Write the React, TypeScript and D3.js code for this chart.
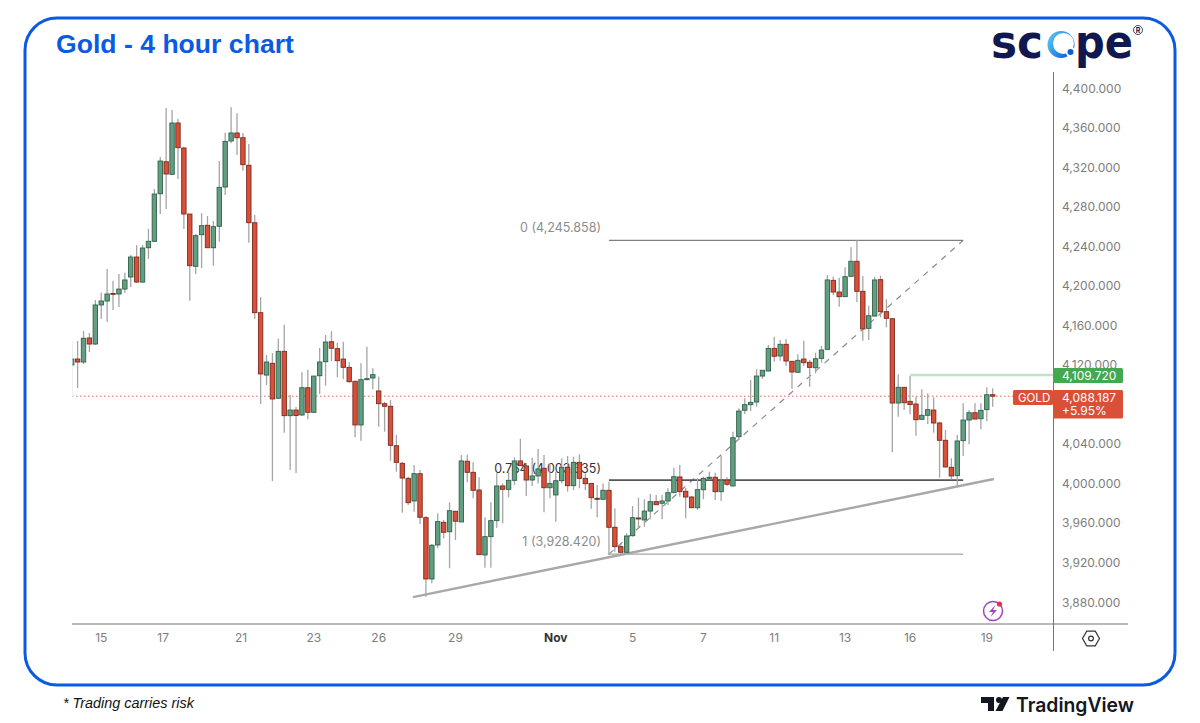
import * as d3 from 'd3';

const opens = [
  4119.8, 4125.8, 4122.8, 4147.1, 4141, 4180.5, 4184.5, 4192.1, 4191.6, 4196.6,
  4208.8, 4229, 4203.7, 4238.4, 4244.9, 4293, 4325.4, 4312.7, 4364.6, 4339.3,
  4272.5, 4219.6, 4251.6, 4261.1, 4238.4, 4260.1, 4299.8, 4346.4, 4354.5, 4349.7,
  4321.8, 4263.7, 4172.7, 4109.6, 4121.5, 4086.1, 4133.6, 4068.5, 4074.2, 4069.2,
  4096.8, 4071.9, 4108.9, 4123.1, 4143.3, 4136.3, 4125.8, 4117.4, 4103.3, 4059.1,
  4104.9, 4106.6, 4093.5, 4080.6, 4078, 4038.1, 4020.3, 4005.1, 3982.2, 4009.8,
  3965.3, 3903.3, 3937.7, 3960.6, 3951.1, 3971.8, 3961, 4022.4, 4011.2, 3993.3,
  3927.6, 3946.1, 3962.3, 3997.4, 3994, 4003.1, 4022.7, 4017.6, 4003.4, 4007.5,
  4015.3, 3995.6, 3988.3, 4002.7, 4016.3, 3997.7, 4021.3, 4005.1, 4000, 3984.9,
  3983.9, 3993, 3955.6, 3936, 3930.3, 3947.1, 3965, 3963, 3972, 3981.5,
  3979.9, 3982.2, 3990.6, 4006.5, 3992, 3986.2, 3975.4, 3993.6, 4005.1, 4006.2,
  3991.6, 4003.4, 3997.4, 4047.2, 4074, 4079.6, 4082.3, 4108.6, 4113.7, 4136.6,
  4128.9, 4140.7, 4123.5, 4112.4, 4125.8, 4122.5, 4117, 4126.5, 4135.6, 4205.4,
  4193.6, 4188.9, 4209.5, 4224.7, 4194.3, 4156.9, 4169.3, 4206.1, 4173.7, 4166.6,
  4081.3, 4097.2, 4083, 4080.3, 4064.8, 4068.9, 4074.2, 4061.1, 4043.6, 4016.3,
  4007.8, 4043.2, 4064.1, 4071.5, 4065.4, 4074.6, 4089.7,
];
const highs = [
  4144, 4144, 4154.2, 4152.1, 4185.5, 4192.9, 4216.9, 4205, 4211.8, 4213.1,
  4231, 4241.2, 4241.2, 4257.6, 4297.8, 4330.2, 4379.7, 4377.7, 4368.6, 4340.6,
  4272.5, 4252.3, 4273.5, 4270.5, 4265.4, 4326.1, 4354.8, 4380.5, 4374.4, 4354.5,
  4343.3, 4271.5, 4188.6, 4129.9, 4131.9, 4146.4, 4160.5, 4089.4, 4077.3, 4112.4,
  4115, 4108.6, 4137, 4150.1, 4153.9, 4142.3, 4143.3, 4122.5, 4103.3, 4121.5,
  4138.3, 4116.4, 4108, 4082.6, 4084.4, 4048.9, 4021.9, 4006.8, 4018.6, 4013.5,
  3967, 3938.7, 3969.7, 3963, 3980.9, 3971.8, 4028.7, 4029, 4021.3, 4006.2,
  3965.7, 3980.9, 4010.2, 4000, 4011.8, 4026.4, 4045.2, 4020.6, 4026, 4034.8,
  4028.7, 4020.6, 4011.5, 4025.4, 4027.7, 4027, 4029.4, 4010.2, 4000, 3998.4,
  4000, 4001.7, 3974.8, 3938.7, 3949.5, 3977.1, 3985.5, 3983.9, 3989.3, 3988.3,
  3988.3, 3995, 4015.9, 4018.6, 3995.3, 3987.2, 4005.1, 4006.8, 4011.8, 4010.8,
  4027.7, 4006.2, 4052.3, 4076, 4086.1, 4104.6, 4115.4, 4114.7, 4140, 4148.4,
  4145, 4146, 4123.8, 4130.6, 4144.3, 4124.8, 4132.2, 4139, 4210.8, 4209.1,
  4208.1, 4218.6, 4238.8, 4245.9, 4209.8, 4179.7, 4209.1, 4210.1, 4186.2, 4167.3,
  4110.4, 4097.5, 4108.6, 4087.7, 4095.2, 4091.1, 4087.1, 4062.4, 4054, 4025.4,
  4048.9, 4081, 4074.2, 4081, 4081, 4097.2, 4096.2,
];
const lows = [
  4089.4, 4096.5, 4120.8, 4132.9, 4140, 4166.3, 4163.3, 4175.4, 4178.4, 4192.6,
  4198.7, 4202.7, 4202.7, 4227, 4244.5, 4272.5, 4277.6, 4312, 4307.9, 4257.3,
  4184.8, 4211.8, 4217.9, 4238.4, 4220.2, 4244.5, 4291.7, 4344, 4332.2, 4316.3,
  4243.5, 4166.3, 4080.3, 4099.5, 4002.4, 4086.1, 4051.3, 4013.5, 4010.5, 4068.2,
  4064.8, 4071.5, 4090.7, 4098.8, 4123.8, 4107.3, 4105.3, 4101.9, 4046.6, 4043.2,
  4104.6, 4095.2, 4057.3, 4052.3, 4023, 4011.8, 3970.4, 3978.1, 3971.4, 3958.9,
  3885.4, 3898.9, 3934.3, 3944.4, 3914.1, 3942.7, 3961, 4001.1, 3984.9, 3927.6,
  3914.7, 3914.7, 3955.2, 3959.6, 3986, 3998.4, 4017.6, 3987.2, 3997.4, 4000,
  3970.8, 3984.9, 3961.3, 4000, 3991.6, 3993.3, 3995, 3993.3, 3974.4, 3965.7,
  3983.7, 3927.6, 3930.9, 3929.3, 3929.6, 3946.1, 3954.6, 3956.2, 3963.7, 3978.1,
  3963.7, 3978.1, 3990.3, 3986.5, 3964.7, 3975.1, 3973.1, 3983.9, 4004.1, 3983.2,
  3982.2, 3997.4, 3996.9, 4043.9, 4070.2, 4073.2, 4077.6, 4105.9, 4113.2, 4123.1,
  4124.1, 4119.1, 4095.8, 4112.2, 4118.8, 4097.8, 4111.4, 4122.1, 4134.9, 4190.6,
  4178.7, 4188.6, 4209.1, 4183.5, 4144.3, 4145, 4168.8, 4168, 4157.9, 4031.5,
  4067.5, 4074.2, 4069.9, 4048.2, 4064.6, 4060.1, 4051.3, 4005.8, 4016.3, 4004.1,
  3996.7, 4027.7, 4039.5, 4064.9, 4054.7, 4062.8, 4077.6,
];
const closes = [
  4125.8, 4122.8, 4146.8, 4141, 4180.5, 4184.5, 4191.6, 4191.3, 4196.6, 4205.8,
  4229, 4203.7, 4238.1, 4244.9, 4292.7, 4326.1, 4313, 4364.6, 4339.6, 4272.5,
  4220.2, 4250.6, 4260.7, 4238.4, 4259.7, 4299.5, 4346, 4354.5, 4349.7, 4322.4,
  4263.7, 4172.7, 4110.7, 4122.8, 4085.4, 4133.6, 4068.5, 4074.2, 4068.7, 4096.8,
  4071.9, 4108.6, 4122.8, 4143, 4136.7, 4124.1, 4117.4, 4102.9, 4059.1, 4104.9,
  4105.9, 4110, 4080.6, 4078, 4038.5, 4021.3, 4005.4, 3980.5, 4009.8, 3965.7,
  3903.3, 3937.4, 3961.3, 3950.5, 3972.4, 3961.7, 4022.7, 4011.2, 3993, 3927.9,
  3946.1, 3962.3, 3997.4, 3994, 4003.1, 4022.7, 4017.9, 4003.4, 4007.5, 4014.6,
  3995.6, 4000, 4002.7, 4016.3, 3997.7, 4021.3, 4005.1, 3999.7, 3985.5, 3983.9,
  3993, 3955.6, 3936, 3930.3, 3946.8, 3965.3, 3964, 3972, 3981.5, 3978.4,
  3982.2, 3990.6, 4006.8, 3991.6, 3986.2, 3975.4, 3993.6, 4005.1, 4006.2, 3991.6,
  4003.4, 3999.1, 4046.2, 4073.2, 4079.6, 4082, 4108.6, 4114.4, 4136.6, 4128.6,
  4140.7, 4123.8, 4112.7, 4124.5, 4122.1, 4117.4, 4126.1, 4134.9, 4205.8, 4193.6,
  4188.9, 4209.1, 4224.7, 4194.3, 4156.2, 4169.6, 4205.8, 4173.7, 4167, 4081.3,
  4097.2, 4081.6, 4079.8, 4064.4, 4068.9, 4074.6, 4061.1, 4043.6, 4016.6, 4007.5,
  4042.9, 4064.1, 4071.5, 4065.1, 4073.9, 4089.7, 4088.2,
];

// 4,080 sits behind the last price tag, so it is not listed
const priceTicks = [3880, 3920, 3960, 4000, 4040, 4120, 4160, 4200, 4240, 4280, 4320, 4360, 4400];
const timeLabels = ['15', '17', '21', '23', '26', '29', 'Nov', '5', '7', '11', '13', '16', '19'];
const timeIndexes = [5, 15.5, 28.7, 41, 52, 65, 82, 95, 107, 119, 131, 142, 155];

// fib retracement anchors (bar index, price)
const fibStart = [91, 3928.42];
const fibEnd = [151, 4245.858];
const fibMid = 4003.336;
const trendStart = [57.8, 3885];
const trendEnd = [156.2, 4004.4];
const lastPrice = 4088.187;
const resistance = 4109.72;
const resistanceStart = 142;

const fmt = d3.format(',.3f');
const x = d3.scaleLinear().domain([0, 156]).range([71.7, 992.7]);
const y = d3.scaleLinear().domain([3880, 4400]).range([602, 88]);

const GREEN = '#629f80';
const GREEN_DARK = '#2f604a';
const RED = '#d94f38';
const RED_DARK = '#7c2b1f';
const BLUE = '#0b5be2';
const AXIS = '#757575';
const UI_FONT = 'Inter, "Noto Sans", sans-serif';
const SANS = "'Liberation Sans', Arial, sans-serif";
const LOGO_FONT = "'DejaVu Sans', Inter, sans-serif";

const seg = d3.line<number[]>().x((d) => x(d[0])).y((d) => y(d[1]));
const hexagon = d3.lineRadial<number>().angle((d) => d).radius(8.5).curve(d3.curveLinearClosed);

export default function App() {
  return (
    <svg width={1200} height={723} style={{ position: 'absolute', left: 0, top: 0, background: '#fff' }}>
      <defs>
        <clipPath id="plot">
          <rect x={72.5} y={72} width={981} height={552} />
        </clipPath>
        <linearGradient id="scopeO" x1="0" y1="0" x2="1" y2="0.6">
          <stop offset="0" stopColor="#5fd0f8" />
          <stop offset="1" stopColor="#0a5fd8" />
        </linearGradient>
      </defs>

      <rect x={25} y={18} width={1150} height={667} rx={32} fill="none" stroke={BLUE} strokeWidth={3} />
      <text x={56} y={53} fontFamily={SANS} fontWeight={700} fontSize={26.6} fill={BLUE}>
        Gold - 4 hour chart
      </text>

      {/* scope logo */}
      <text x={991} y={58} textLength={52} lengthAdjust="spacingAndGlyphs" fontFamily={LOGO_FONT} fontWeight={700} fontSize={46} fill="#11184f">sc</text>
      <circle cx={1061} cy={44.5} r={13.5} fill="url(#scopeO)" />
      <circle cx={1063.5} cy={43.5} r={10.5} fill="#fff" />
      <path d="M1064 50 L1072 47 L1076 49 L1069 59 Z" fill="#fff" />
      <circle cx={1070.5} cy={52} r={3} fill="#0a5fd8" />
      <text x={1075} y={58} textLength={58} lengthAdjust="spacingAndGlyphs" fontFamily={LOGO_FONT} fontWeight={700} fontSize={46} fill="#11184f">pe</text>
      <circle cx={1138} cy={30} r={4.5} fill="none" stroke="#11184f" strokeWidth={0.8} />
      <text x={1138} y={32.5} textAnchor="middle" fontFamily={UI_FONT} fontWeight={700} fontSize={7} fill="#11184f">R</text>

      {/* axis frame */}
      <line x1={1053.5} x2={1053.5} y1={72} y2={651} stroke={AXIS} strokeWidth={1} />
      <line x1={72} x2={1128} y1={624} y2={624} stroke={AXIS} strokeWidth={1} />

      {priceTicks.map((p) => (
        <text key={p} x={1062} y={y(p) + 4.5} fontFamily={UI_FONT} fontSize={12} fill="#7d7d7d">
          {fmt(p)}
        </text>
      ))}
      {timeLabels.map((t, i) => (
        <text
          key={t}
          x={x(timeIndexes[i])}
          y={642}
          textAnchor="middle"
          fontFamily={UI_FONT}
          fontSize={12}
          fontWeight={t === 'Nov' ? 700 : 400}
          fill={t === 'Nov' ? '#333' : '#7d7d7d'}
        >
          {t}
        </text>
      ))}

      {/* settings hexagon */}
      <path
        d={hexagon(d3.range(6).map((i) => (i * Math.PI) / 3 + Math.PI / 2)) as string}
        transform="translate(1091,638.5)"
        fill="none"
        stroke="#333"
        strokeWidth={1.2}
      />
      <circle cx={1091} cy={638.5} r={2.4} fill="none" stroke="#333" strokeWidth={1.2} />

      <g clipPath="url(#plot)">
        {/* last price line */}
        <line x1={72} x2={1053} y1={y(lastPrice)} y2={y(lastPrice)} stroke={RED} strokeWidth={1} strokeDasharray="1.5 2.5" opacity={0.85} />
        <line x1={x(resistanceStart)} x2={1053} y1={y(resistance)} y2={y(resistance)} stroke="#bfe3c4" strokeWidth={2.4} />

        {/* fib */}
        <path d={seg([fibStart, fibEnd]) as string} fill="none" stroke="#8a8a8a" strokeWidth={1.2} strokeDasharray="6 6" />
        <path d={seg([[fibStart[0], fibEnd[1]], fibEnd]) as string} fill="none" stroke="#7f7f7f" strokeWidth={1.4} />
        <path d={seg([[fibStart[0], fibMid], [fibEnd[0], fibMid]]) as string} fill="none" stroke="#555" strokeWidth={1.6} />
        <path d={seg([fibStart, [fibEnd[0], fibStart[1]]]) as string} fill="none" stroke="#a5a5a5" strokeWidth={1.4} />
        <text x={601} y={y(fibEnd[1]) - 8} textAnchor="end" fontFamily={UI_FONT} fontSize={12.5} fill="#8c8c8c">
          0 ({fmt(fibEnd[1])})
        </text>
        <text x={601} y={y(fibMid) - 7} textAnchor="end" fontFamily={UI_FONT} fontSize={12.5} fill="#333">
          0.764 ({fmt(fibMid - 0.001)})
        </text>
        <text x={601} y={y(fibStart[1]) - 8} textAnchor="end" fontFamily={UI_FONT} fontSize={12.5} fill="#8c8c8c">
          1 ({fmt(fibStart[1])})
        </text>

        {/* rising trendline */}
        <path d={seg([trendStart, trendEnd]) as string} fill="none" stroke="#a8a8a8" strokeWidth={2.4} />

        {/* candles */}
        {opens.map((o, i) => {
          const c = closes[i];
          const up = c >= o;
          const top = y(Math.max(o, c));
          const h = Math.max(0.8, y(Math.min(o, c)) - top);
          return (
            <g key={i}>
              <line x1={x(i)} x2={x(i)} y1={y(highs[i])} y2={y(lows[i])} stroke="#a5a5a5" strokeWidth={1.3} />
              <rect
                x={x(i) - 2.2}
                y={top}
                width={4.4}
                height={h}
                fill={up ? GREEN : RED}
                stroke={up ? GREEN_DARK : RED_DARK}
                strokeWidth={0.9}
              />
            </g>
          );
        })}
      </g>

      {/* price tags */}
      <rect x={1053} y={368} width={70} height={15} rx={1.5} fill="#43a84f" />
      <text x={1062} y={380} fontFamily={UI_FONT} fontSize={12} fill="#fff">{fmt(resistance)}</text>
      <rect x={1013} y={390} width={40} height={15} rx={1.5} fill={RED} />
      <text x={1018} y={402} fontFamily={UI_FONT} fontSize={11.5} fill="#fff">GOLD</text>
      <rect x={1053} y={390} width={70} height={28.5} rx={1.5} fill={RED} />
      <text x={1062} y={402} fontFamily={UI_FONT} fontSize={12} fill="#fff">{fmt(lastPrice)}</text>
      <text x={1062} y={415} fontFamily={UI_FONT} fontSize={12} fill="#fff">+5.95%</text>

      {/* lightning badge */}
      <circle cx={993} cy={611} r={9.5} fill="none" stroke="#a243c2" strokeWidth={1.5} />
      <path d="M995.5 605 L989 612 L993 612 L990.5 617 L997 610 L993 610 Z" fill="#a243c2" />
      <circle cx={999.5} cy={604} r={2.6} fill="#e6304f" />

      {/* footer */}
      <text x={63} y={708} fontFamily={SANS} fontStyle="italic" fontSize={14.4} fill="#111">
        * Trading carries risk
      </text>
      <path d="M981 697 H994 V711 H988 V703 H981 Z" fill="#131722" />
      <circle cx={999} cy={700} r={3} fill="#131722" />
      <path d="M1003 697 H1009.5 L1002.5 711 H995.5 Z" fill="#131722" />
      <text x={1016} y={711.5} textLength={118} lengthAdjust="spacingAndGlyphs" fontFamily={UI_FONT} fontWeight={600} fontSize={20} fill="#131722">TradingView</text>
    </svg>
  );
}
